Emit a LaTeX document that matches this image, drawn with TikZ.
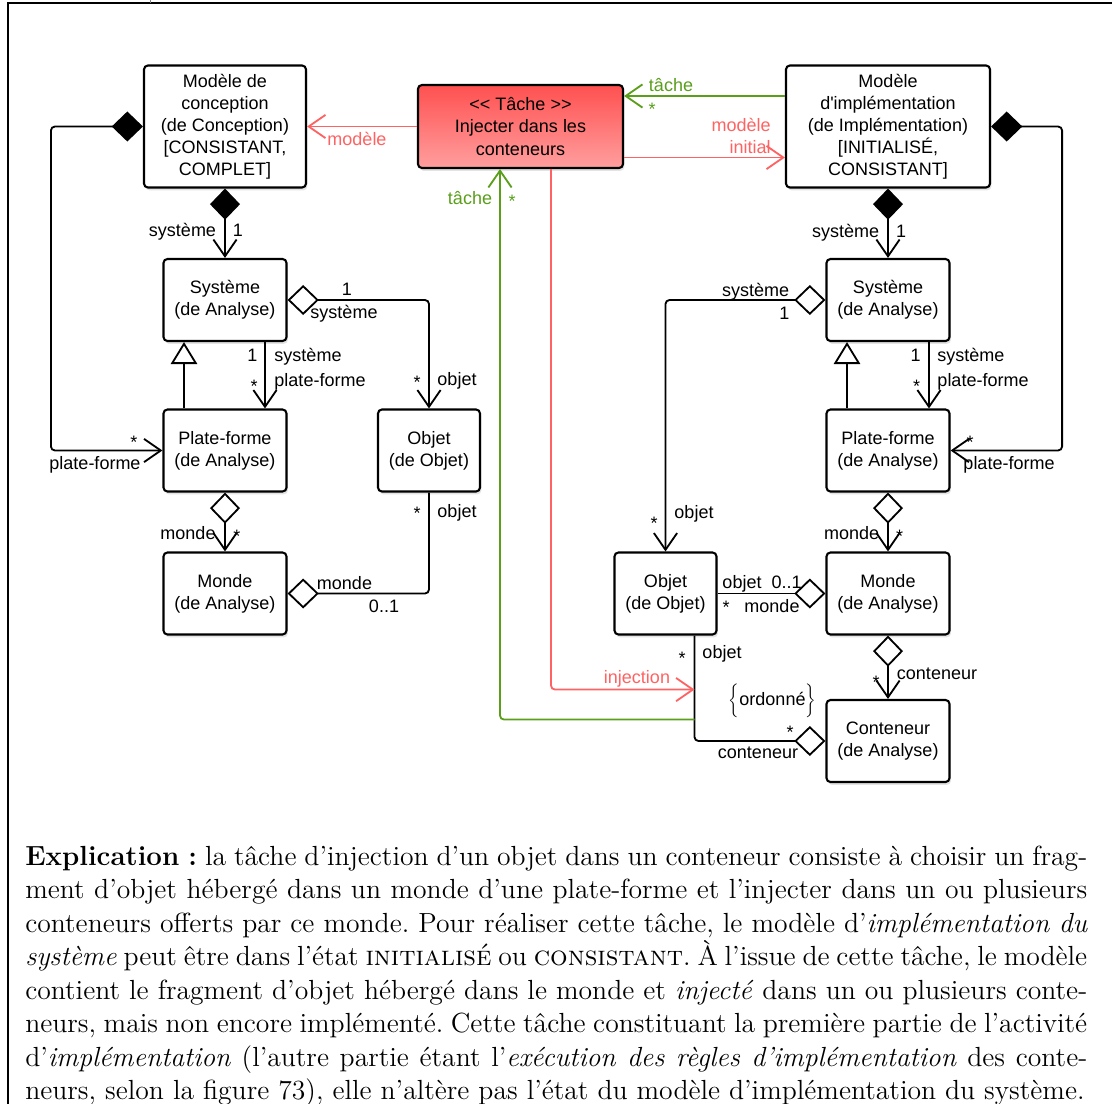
\documentclass[tikz,border=0pt]{standalone}
\usepackage{fontspec}
\usepackage{graphicx}
\newfontfamily\umlfam{Liberation Sans}
\usetikzlibrary{arrows.meta, calc, shadows}
\definecolor{cred}{HTML}{FF6262}
\definecolor{cgreen}{HTML}{5A9E1A}
\definecolor{ctask}{HTML}{FF5050}
\newcommand{\umlfont}{\umlfam\fontsize{12.8}{15.7}\selectfont}
\newcommand{\bigbrace}[1]{{\fontsize{11.5}{14}\selectfont$\biggl#1$}}
\tikzset{
  navi/.tip={Straight Barb[length=0.42cm, width=0.58cm]},
  comp/.tip={Diamond[length=0.78cm, width=0.75cm]},
  aggr/.tip={Diamond[open, length=0.78cm, width=0.75cm]},
  gene/.tip={Triangle[open, length=0.55cm, width=0.66cm]},
  cls/.style={draw, line width=1.5pt, rounded corners=0.1cm, fill=white, align=center, font=\umlfont,
    inner sep=2pt, minimum width=3.075cm, minimum height=2.05cm,
    drop shadow={shadow xshift=1pt, shadow yshift=-2pt, opacity=0.22}},
  tachebox/.style={cls, top color=ctask, bottom color=ctask!55!white, minimum width=5.125cm, minimum height=2.075cm},
  link/.style={line width=1.3pt, rounded corners=0.1cm},
  lbl/.style={font=\umlfont, inner sep=0pt, anchor=base},
  mult/.style={lbl, yshift=-7.3pt},
  para/.style={anchor=base west, inner sep=0pt},
}

\begin{document}
\begin{tikzpicture}[x=0.025cm, y=-0.025cm]
  \useasboundingbox (0,0) rectangle (1112,1104);
  % frame
  \draw[line width=0.9pt] (8,1104) -- (8,3) -- (1112,3);
  \draw[gray, line width=0.7pt] (150.5,0) -- (150.5,3);

  % models and task
  \node[cls, minimum width=4.05cm, minimum height=3.05cm] (mconc) at (225,126.5) {Modèle de\\conception\\(de Conception)\\{}[CONSISTANT,\\COMPLET]};
  \node[tachebox] (task) at (520.5,126.5) {<< Tâche >>\\Injecter dans les\\conteneurs};
  \node[cls, minimum width=5.1cm, minimum height=3.05cm] (mimpl) at (888,126.5) {Modèle\\d'implémentation\\(de Implémentation)\\{}[INITIALISÉ,\\CONSISTANT]};

  % left classes
  \node[cls] (sysL) at (225,300) {Système\\(de Analyse)};
  \node[cls] (platL) at (225,450.5) {Plate-forme\\(de Analyse)};
  \node[cls] (mondeL) at (225,593.5) {Monde\\(de Analyse)};
  \node[cls, minimum width=2.55cm] (objL) at (429,450.5) {Objet\\(de Objet)};

  % right classes
  \node[cls] (sysR) at (888,300) {Système\\(de Analyse)};
  \node[cls] (platR) at (888,450.5) {Plate-forme\\(de Analyse)};
  \node[cls] (mondeR) at (888,593.5) {Monde\\(de Analyse)};
  \node[cls, minimum width=2.55cm] (objR) at (665.5,593.5) {Objet\\(de Objet)};
  \node[cls] (contR) at (888,741) {Conteneur\\(de Analyse)};

  % left associations
  \draw[link, comp-navi] (mconc.south) -- (sysL.north);
  \draw[link, comp-navi] (mconc.west) -- ++(-92,0) |- (platL.west);
  \draw[link, -navi] ($(sysL.south)+(40,0)$) -- ($(platL.north)+(40,0)$);
  \draw[link, -gene] ($(platL.north)+(-41,0)$) -- ($(sysL.south)+(-41,0)$);
  \draw[link, aggr-navi] (sysL.east) -| (objL.north);
  \draw[link, aggr-navi] (platL.south) -- (mondeL.north);
  \draw[link, aggr-] (mondeL.east) -| (objL.south);

  % right associations
  \draw[link, comp-navi] (mimpl.south) -- (sysR.north);
  \draw[link, comp-navi] (mimpl.east) -- ++(71,0) |- (platR.east);
  \draw[link, -navi] ($(sysR.south)+(41,0)$) -- ($(platR.north)+(41,0)$);
  \draw[link, -gene] ($(platR.north)+(-41,0)$) -- ($(sysR.south)+(-41,0)$);
  \draw[link, aggr-navi] (sysR.west) -| (objR.north);
  \draw[link, aggr-navi] (platR.south) -- (mondeR.north);
  \draw[link, aggr-] (mondeR.west) -- (objR.east);
  \draw[link, aggr-navi] (mondeR.south) -- (contR.north);
  \draw[link, -aggr] ($(objR.south)+(29,0)$) |- (contR.west);

  % task links
  \coordinate (inj) at ($(objR.south)+(29,54)$);
  \coordinate (tsk) at ($(objR.south)+(29,84)$);
  \draw[link, cred, -navi] (task.west) -- (mconc.east);
  \draw[link, cgreen, -navi] ($(mimpl.west)+(0,-30.5)$) -- ($(task.east)+(0,-30.5)$);
  \draw[link, cred, -navi] ($(task.east)+(0,31)$) -- ($(mimpl.west)+(0,31)$);
  \draw[link, cred, -navi] ($(task.south)+(30.5,0)$) |- (inj);
  \draw[link, cgreen, -navi] (tsk) -| ($(task.south)+(-20.5,0)$);

  % role names
  \node[lbl] (rA) at (182.5,236) {système};
  \node[lbl] (rA1) at (238,236) {1};
  \node[lbl, text=cred] (rH) at (357,146) {modèle};
  \node[lbl, text=cgreen] (rI) at (671,92) {tâche};
  \node[lbl, anchor=base east, text=cred] (rJ) at (771,131) {modèle};
  \node[lbl, anchor=base east, text=cred] (rJ2) at (771,153) {initial};
  \node[lbl, text=cgreen] (rL) at (470,204) {tâche};
  \node[lbl] (rE1) at (347,295) {1};
  \node[lbl] (rE) at (344,318) {système};
  \node[lbl] (rE2) at (457,385) {objet};
  \node[lbl] (rC1) at (252.5,361) {1};
  \node[lbl] (rC) at (308,361) {système};
  \node[lbl] (rC2) at (320,386) {plate-forme};
  \node[lbl] (rB) at (95,469) {plate-forme};
  \node[lbl] (rF) at (188,539) {monde};
  \node[lbl] (rG) at (457,517) {objet};
  \node[lbl] (rG2) at (344.5,589) {monde};
  \node[lbl] (rG1) at (384,612) {0..1};
  \node[lbl] (rM) at (845.5,237) {système};
  \node[lbl] (rM1) at (901,237) {1};
  \node[lbl] (rQ) at (755.6,296) {système};
  \node[lbl] (rQ1) at (784.4,319) {1};
  \node[lbl] (rQ2) at (694,518) {objet};
  \node[lbl] (rO1) at (915.5,361) {1};
  \node[lbl] (rO) at (970.8,361) {système};
  \node[lbl] (rO2) at (983,386) {plate-forme};
  \node[lbl] (rN) at (1009,469) {plate-forme};
  \node[lbl] (rR) at (851.6,539) {monde};
  \node[lbl] (rS) at (742,588) {objet};
  \node[lbl] (rS1) at (786.6,588) {0..1};
  \node[lbl] (rS2) at (772,612) {monde};
  \node[lbl] (rT) at (937,679) {conteneur};
  \node[lbl] (rU) at (722,658) {objet};
  \node[lbl] (rU2) at (758,758) {conteneur};
  \node[lbl, text=cred] (rK) at (637,683) {injection};
  \node[lbl] (ord) at (772.5,705) {\bigbrace\{ordonné\bigbrace\}};

  % multiplicities
  \foreach \x/\y [count=\i] in {134/438, 254/382, 417/378, 237/532, 417/509, 970/438, 916.5/382,
      654/519, 899.7/532, 726/603, 876/678, 682/654, 790/728}
    \node[mult] (m\i) at (\x,\y) {*};
  \node[mult, text=cgreen] (mI) at (652,105) {*};
  \node[mult, text=cgreen] (mL) at (512,197) {*};

  % explanation
  \node[para] (expl) at (25,865.5) {\scalebox{1.6393}{\parbox[t]{460.7pt}{\fontsize{12}{14.5}\selectfont\frenchspacing
    \textbf{Explication :} la tâche d’injection d’un objet dans un conteneur consiste à choisir un frag-\linebreak
    ment d’objet hébergé dans un monde d’une plate-forme et l’injecter dans un ou plusieurs\linebreak
    conteneurs offerts par ce monde. Pour réaliser cette tâche, le modèle d’\emph{implémentation du\linebreak
    système} peut être dans l’état \textsc{initialisé} ou \textsc{consistant}. À l’issue de cette tâche, le modèle\linebreak
    contient le fragment d’objet hébergé dans le monde et \emph{injecté} dans un ou plusieurs conte-\linebreak
    neurs, mais non encore implémenté. Cette tâche constituant la première partie de l’activité\linebreak
    d’\emph{implémentation} (l’autre partie étant l’\emph{exécution des règles d’implémentation} des conte-\linebreak
    neurs, selon la figure 73), elle n’altère pas l’état du modèle d’implémentation du système.}}};
\end{tikzpicture}
\end{document}
